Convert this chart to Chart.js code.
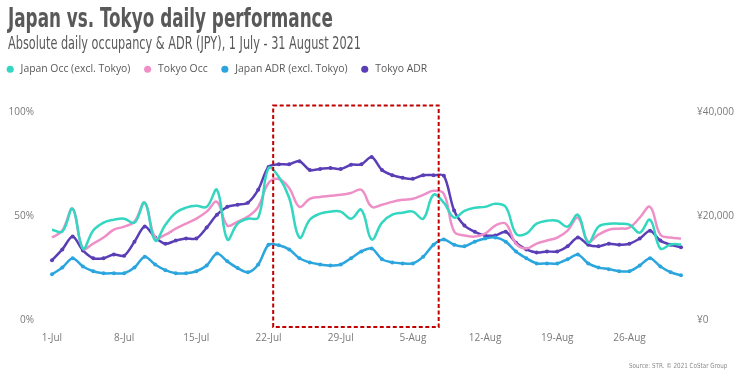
<!DOCTYPE html>
<html>
<head>
<meta charset="utf-8">
<script src="https://cdn.jsdelivr.net/npm/chart.js@4.4.1/dist/chart.umd.min.js"></script>
<style>
  html,body{margin:0;padding:0;background:#fff;}
  #wrap{position:relative;width:742px;height:378px;overflow:hidden;}
  #c{position:absolute;left:0;top:0;}
  .txt{position:absolute;white-space:nowrap;transform-origin:0 0;color:#595959;}
  #title{left:8px;top:3px;font:700 26px 'Liberation Sans Narrow','DejaVu Sans Condensed',sans-serif;}
  #subtitle{left:8px;top:33px;font:400 17px 'Liberation Sans Narrow','DejaVu Sans Condensed',sans-serif;}
  #source{right:3px;top:362px;font:400 7px 'Liberation Sans Narrow','DejaVu Sans Condensed',sans-serif;color:#8a8a8a;}
</style>
</head>
<body>
<div id="wrap">
  <canvas id="c" width="742" height="378"></canvas>
  <div class="txt" id="title">Japan vs. Tokyo daily performance</div>
  <div class="txt" id="subtitle">Absolute daily occupancy &amp; ADR (JPY), 1 July - 31 August 2021</div>
  <div class="txt" id="source">Source: STR. © 2021 CoStar Group</div>
</div>
<script>
const dates = ['1-Jul','2-Jul','3-Jul','4-Jul','5-Jul','6-Jul','7-Jul','8-Jul','9-Jul','10-Jul',
  '11-Jul','12-Jul','13-Jul','14-Jul','15-Jul','16-Jul','17-Jul','18-Jul','19-Jul','20-Jul',
  '21-Jul','22-Jul','23-Jul','24-Jul','25-Jul','26-Jul','27-Jul','28-Jul','29-Jul','30-Jul','31-Jul',
  '1-Aug','2-Aug','3-Aug','4-Aug','5-Aug','6-Aug','7-Aug','8-Aug','9-Aug','10-Aug',
  '11-Aug','12-Aug','13-Aug','14-Aug','15-Aug','16-Aug','17-Aug','18-Aug','19-Aug','20-Aug',
  '21-Aug','22-Aug','23-Aug','24-Aug','25-Aug','26-Aug','27-Aug','28-Aug','29-Aug','30-Aug','31-Aug'];

const shownTicks = ['1-Jul','8-Jul','15-Jul','22-Jul','29-Jul','5-Aug','12-Aug','19-Aug','26-Aug'];

const japanOcc = [43.5, 42.6, 53.6, 34.4, 43.1, 46.9, 48.3, 48.8, 46.9, 56.5,
  38.3, 45.9, 51.7, 54.1, 55.0, 54.5, 62.7, 38.8, 46.4, 48.8,
  49.3, 73.2, 68.9, 58.9, 39.7, 48.3, 51.2, 52.2, 52.2, 48.8,
  53.1, 38.8, 46.9, 50.7, 51.7, 52.2, 48.8, 60.3, 56.5, 49.3,
  52.6, 54.1, 54.5, 56.0, 54.5, 41.6, 41.6, 46.4, 47.8, 47.8,
  45.0, 50.7, 37.3, 45.0, 46.4, 46.4, 45.9, 42.1, 48.3, 34.4,
  36.4, 36.4];

const tokyoOcc = [39.7, 43.1, 53.6, 34.4, 36.8, 39.7, 43.5, 45.0, 47.4, 56.5,
  39.7, 41.1, 44.0, 46.4, 48.8, 52.2, 56.9, 45.5, 47.4, 49.8,
  54.5, 66.0, 67.9, 63.6, 54.5, 58.4, 59.3, 59.8, 60.3, 61.2,
  62.7, 54.5, 55.5, 56.9, 57.9, 58.4, 60.3, 62.2, 60.8, 42.6,
  40.7, 40.2, 41.6, 45.5, 46.4, 36.8, 34.4, 36.8, 38.3, 39.7,
  43.1, 49.3, 37.8, 41.1, 43.5, 44.0, 44.5, 49.3, 54.5, 41.1,
  39.7, 39.2];

const japanADR = [8800, 10100, 11900, 10300, 9400, 9000, 9000, 9000, 10100, 12200,
  10700, 9600, 9000, 9000, 9400, 10500, 12800, 11300, 10000, 9200,
  10700, 14500, 14400, 13600, 11900, 11100, 10700, 10500, 10700, 11900,
  13200, 13800, 11700, 11100, 10900, 10900, 12200, 14500, 15500, 14500,
  14200, 15100, 15700, 15900, 15100, 13200, 11900, 10900, 10900, 10900,
  11700, 12600, 10900, 10100, 9800, 9400, 9400, 10500, 11900, 10300,
  9200, 8600];

const tokyoADR = [11500, 13600, 16100, 13400, 11900, 11900, 12600, 12400, 15100, 18000,
  15900, 14700, 15300, 15700, 15700, 17800, 20300, 21800, 22200, 22600,
  25100, 29500, 30000, 30000, 30600, 28900, 29100, 29300, 29100, 29900,
  30000, 31400, 28900, 27900, 27400, 27200, 27900, 27900, 27800, 21100,
  18200, 17000, 16300, 16300, 17000, 14900, 13600, 13000, 13200, 13200,
  14200, 15900, 14500, 14200, 14700, 14500, 14700, 15700, 17200, 15300,
  14500, 14000];

const occTicks = [0, 50, 100];
const adrTicks = [0, 20000, 40000];
// highlighted period (day index along the category axis)
const highlightFrom = 21.45;
const highlightTo = 37.5;

function fitText(id, w){
  const el = document.getElementById(id);
  el.style.transform = 'scaleX(' + (w / el.offsetWidth) + ')';
}
fitText('title', 325);
fitText('subtitle', 353);
fitText('source', 98);

const C = {
  jOcc: '#33d6c0',
  tOcc: '#ef8fc8',
  jAdr: '#2ba5de',
  tAdr: '#5a3eb6'
};

const legendSpacer = {
  id: 'legendSpacer',
  beforeInit(chart){
    const lg = chart.legend;
    if (lg) {
      const f = lg.fit;
      lg.fit = function(){ f.call(this); this.height += 28; };
    }
  }
};

const highlightBox = {
  id: 'highlightBox',
  afterDraw(chart){
    const x = chart.scales.x, a = chart.chartArea, ctx = chart.ctx;
    const x1 = x.getPixelForValue(highlightFrom), x2 = x.getPixelForValue(highlightTo);
    ctx.save();
    ctx.strokeStyle = '#c00000';
    ctx.lineWidth = 2;
    ctx.setLineDash([4, 2.5]);
    ctx.strokeRect(x1, a.top - 7, x2 - x1, a.bottom - a.top + 14);
    ctx.restore();
  }
};

const axisFont = {family: "'Open Sans', sans-serif", size: 10};

new Chart(document.getElementById('c'), {
  type: 'line',
  data: {
    labels: dates,
    datasets: [
      {label: 'Japan Occ (excl. Tokyo)', data: japanOcc, yAxisID: 'y', borderColor: C.jOcc, backgroundColor: C.jOcc,
       borderWidth: 2.5, pointRadius: 0, pointBorderWidth: 0, tension: 0.4},
      {label: 'Tokyo Occ', data: tokyoOcc, yAxisID: 'y', borderColor: C.tOcc, backgroundColor: C.tOcc,
       borderWidth: 2.5, pointRadius: 0, pointBorderWidth: 0, tension: 0.4},
      {label: 'Japan ADR (excl. Tokyo)', data: japanADR, yAxisID: 'y1', borderColor: C.jAdr, backgroundColor: C.jAdr,
       borderWidth: 2.5, pointRadius: 2, pointBorderWidth: 0, tension: 0.3},
      {label: 'Tokyo ADR', data: tokyoADR, yAxisID: 'y1', borderColor: C.tAdr, backgroundColor: C.tAdr,
       borderWidth: 2.5, pointRadius: 2, pointBorderWidth: 0, tension: 0.3}
    ]
  },
  options: {
    responsive: false,
    animation: false,
    devicePixelRatio: 1,
    layout: {padding: {top: 52, bottom: 30, left: -7, right: 0}},
    plugins: {
      legend: {
        position: 'top', align: 'start',
        labels: {
          usePointStyle: true, pointStyle: 'circle', boxWidth: 12, boxHeight: 5,
          padding: 12, color: '#595959',
          font: {family: "'Open Sans', sans-serif", size: 10.4}
        }
      },
      tooltip: {enabled: false}
    },
    scales: {
      x: {
        type: 'category',
        grid: {display: false}, border: {display: false},
        ticks: {
          autoSkip: false, maxRotation: 0, padding: 4, color: '#7a7a7a', font: axisFont,
          callback: function(v, i){ const l = dates[i]; return shownTicks.includes(l) ? l : ''; }
        }
      },
      y: {
        position: 'left', min: 0, max: 100,
        grid: {display: false}, border: {display: false},
        afterBuildTicks: s => { s.ticks = occTicks.map(v => ({value: v})); },
        afterFit: s => { s.width = 59; },
        ticks: {padding: 10, color: '#7a7a7a', font: axisFont, callback: v => v + '%'}
      },
      y1: {
        position: 'right', min: 0, max: 40000,
        grid: {display: false}, border: {display: false},
        afterBuildTicks: s => { s.ticks = adrTicks.map(v => ({value: v})); },
        afterFit: s => { s.width = 61; },
        ticks: {padding: 8, color: '#7a7a7a', font: axisFont,
          callback: v => '¥' + Number(v).toLocaleString('en-US')}
      }
    }
  }
  ,
  plugins: [legendSpacer, highlightBox]
});
</script>
</body>
</html>
